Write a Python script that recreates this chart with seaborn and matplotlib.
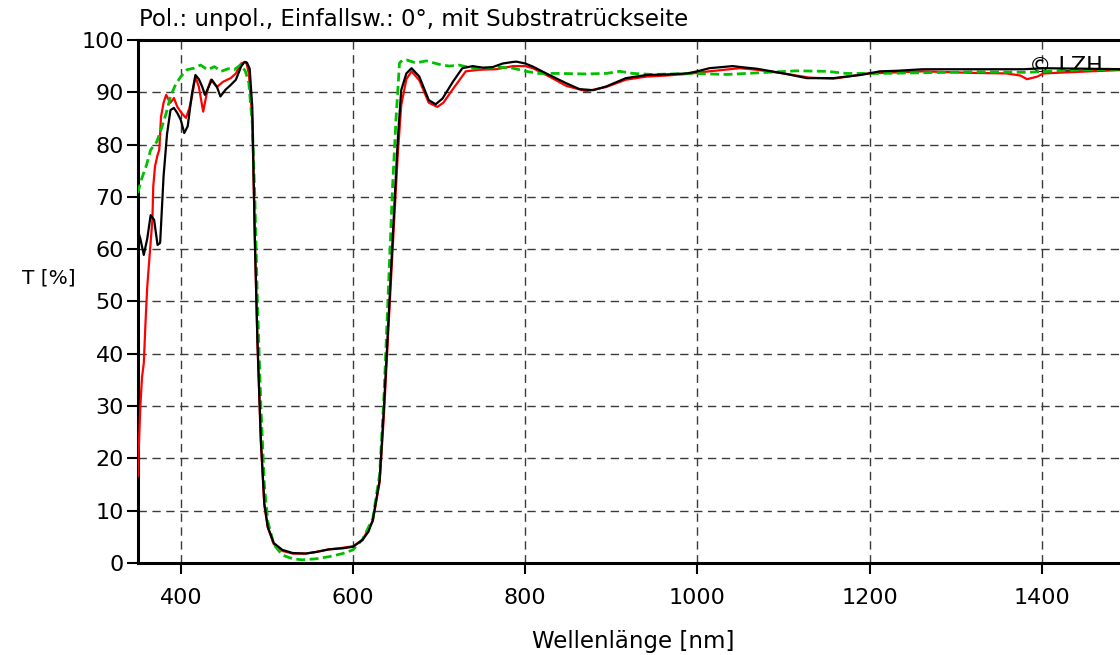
import matplotlib
matplotlib.use("Agg")
import matplotlib.pyplot as plt
import seaborn as sns
import pandas as pd

# Transmission spectra (wavelength in nm, transmission in %)
wl_black = [350, 353, 357, 361, 365, 369, 373, 376, 380, 384, 388, 392, 396, 400, 404, 408,
            413, 417, 421, 425, 428, 431, 436, 442, 446, 452, 458, 464, 470, 474, 477, 480,
            483, 486, 489, 493, 497, 501, 508, 518, 530, 545, 557, 572, 588, 600, 611, 618,
            623, 631, 636, 642, 648, 652, 656, 662, 668, 677, 688, 696, 704, 716, 727, 739,
            751, 762, 774, 786, 790, 800, 809, 828, 848, 863, 879, 894, 917, 941, 964, 988,
            1000, 1014, 1041, 1057, 1069, 1100, 1127, 1158, 1189, 1212, 1231, 1262, 1301,
            1379, 1402, 1450, 1500]
t_black = [63.7, 62.0, 58.9, 62.0, 66.5, 65.6, 60.8, 61.2, 74.0, 82.0, 86.6, 87.0, 86.0, 84.7,
           82.2, 83.5, 89.8, 93.3, 92.5, 91.0, 89.5, 90.5, 92.4, 91.0, 89.2, 90.5, 91.4, 92.4,
           94.9, 95.8, 95.6, 94.5, 87.2, 61.8, 42.6, 23.5, 11.4, 6.9, 3.8, 2.5, 1.9, 1.8, 2.1,
           2.6, 2.8, 3.1, 4.4, 6.0, 8.2, 15.9, 29.9, 49.0, 68.1, 80.9, 90.4, 93.6, 94.6, 93.0,
           88.5, 87.7, 88.8, 92.0, 94.6, 95.0, 94.7, 94.8, 95.5, 95.8, 95.85, 95.5, 94.9, 93.3,
           91.7, 90.6, 90.4, 91.1, 92.7, 93.3, 93.4, 93.6, 94.0, 94.6, 95.0, 94.7, 94.5, 93.6,
           92.7, 92.7, 93.3, 94.0, 94.1, 94.4, 94.4, 94.4, 94.6, 94.5, 94.4]

wl_red = [350, 353, 355, 357, 359, 361, 364, 367, 368, 370, 373, 375, 377, 380, 383, 386, 388,
          392, 396, 401, 406, 410, 413, 417, 421, 426, 431, 435, 442, 449, 458, 464, 470, 476,
          479, 483, 486, 489, 493, 497, 501, 508, 518, 530, 545, 557, 572, 588, 600, 611, 623,
          631, 636, 642, 648, 652, 656, 662, 668, 677, 688, 698, 705, 716, 731, 747, 766, 786,
          800, 809, 828, 848, 871, 894, 917, 941, 964, 988, 1014, 1049, 1069, 1100, 1130, 1158,
          1200, 1262, 1320, 1359, 1375, 1383, 1395, 1402, 1456, 1500]
t_red = [16.5, 30.0, 35.6, 38.2, 46.0, 52.8, 59.3, 65.6, 72.0, 75.8, 78.0, 79.0, 85.3, 88.0,
         89.5, 88.5, 88.0, 88.9, 87.2, 86.0, 85.1, 87.0, 89.2, 93.0, 91.0, 86.3, 90.5, 92.4,
         91.0, 92.0, 92.7, 93.6, 95.5, 95.8, 93.6, 85.0, 62.0, 42.0, 23.0, 11.0, 6.8, 3.6, 2.3,
         1.8, 1.8, 2.1, 2.6, 2.9, 3.2, 4.4, 8.0, 15.5, 28.5, 47.5, 66.0, 78.0, 87.5, 92.5, 94.0,
         92.3, 88.0, 87.2, 88.0, 90.6, 94.0, 94.3, 94.4, 95.0, 95.0, 94.6, 93.0, 91.2, 90.2,
         91.0, 92.4, 93.0, 93.2, 93.5, 94.0, 94.6, 94.3, 93.6, 92.8, 92.6, 93.6, 94.0, 93.7,
         93.6, 93.2, 92.5, 93.0, 93.6, 94.0, 94.3]

wl_green = [350, 354, 360, 365, 372, 377, 383, 388, 394, 400, 407, 415, 423, 431, 439, 447, 455,
            462, 470, 475, 479, 483, 486, 489, 493, 497, 501, 508, 518, 530, 541, 557, 572, 588,
            600, 611, 623, 631, 636, 641, 646, 650, 654, 658, 662, 673, 685, 701, 712, 723, 739,
            755, 770, 786, 801, 816, 839, 870, 894, 910, 925, 948, 994, 1034, 1057, 1115, 1150,
            1173, 1212, 1251, 1328, 1383, 1444, 1500]
t_green = [70.7, 73.2, 76.0, 79.0, 80.5, 82.8, 86.0, 89.2, 91.5, 93.0, 94.3, 94.6, 95.2, 94.3,
           94.9, 94.0, 94.5, 94.3, 95.3, 94.0, 91.8, 84.0, 70.0, 50.0, 30.0, 15.0, 8.0, 3.5, 1.5,
           0.8, 0.6, 0.8, 1.2, 1.8, 2.5, 4.5, 8.5, 17.0, 32.0, 52.0, 72.0, 85.0, 95.6, 96.2, 96.2,
           95.6, 96.0, 95.3, 95.0, 95.2, 94.6, 94.6, 94.8, 94.6, 94.0, 93.6, 93.6, 93.5, 93.6,
           94.0, 93.6, 93.4, 93.6, 93.4, 93.6, 94.1, 94.0, 93.6, 93.6, 93.7, 93.9, 93.8, 94.3,
           94.4]

x_ticks = [400, 600, 800, 1000, 1200, 1400]
y_ticks = list(range(0, 101, 10))

sns.set_style("white")
plt.rcParams["font.family"] = ["DejaVu Sans"]
plt.rcParams["text.color"] = "black"
plt.rcParams["axes.labelcolor"] = "black"

fig = plt.figure(figsize=(11.2, 6.55), dpi=100)
ax = fig.add_axes([0.123, 0.1405, 0.884, 0.7985])

df_black = pd.DataFrame({"wl": wl_black, "T": t_black})
df_red = pd.DataFrame({"wl": wl_red, "T": t_red})
df_green = pd.DataFrame({"wl": wl_green, "T": t_green})

ax.text(1385, 95.0, "© LZH", fontsize=16, va="center", ha="left", color="black", zorder=1)

sns.lineplot(data=df_red, x="wl", y="T", color="#ff0000", linewidth=1.6, sort=False, ax=ax, zorder=3)
sns.lineplot(data=df_green, x="wl", y="T", color="#00c000", linewidth=2.0, sort=False, ax=ax, zorder=4)
ax.lines[-1].set_dashes((3.2, 1.6))
sns.lineplot(data=df_black, x="wl", y="T", color="black", linewidth=1.6, sort=False, ax=ax, zorder=5)

ax.set_xlim(350, 1500)
ax.set_ylim(0, 100)
ax.set_xticks(x_ticks)
ax.set_yticks(y_ticks)
ax.tick_params(axis="both", which="major", direction="out", length=8, width=1.5,
               labelsize=16, color="black", labelcolor="black", bottom=True, left=True)
ax.tick_params(axis="x", pad=10)
ax.tick_params(axis="y", pad=2)

ax.grid(True, linestyle=(0, (6, 4)), color="#3a3a3a", linewidth=1.0)
ax.set_axisbelow(True)

for side in ["left", "bottom", "top", "right"]:
    ax.spines[side].set_color("black")
    ax.spines[side].set_linewidth(2.2)
    ax.spines[side].set_visible(True)

ax.set_xlabel("Wellenlänge [nm]", fontsize=16.5, labelpad=16, color="black")
ax.set_ylabel("T [%]", fontsize=14.5, rotation=0, ha="left", va="center", color="black")
ax.yaxis.set_label_coords(-0.117, 0.545)
ax.set_title("Pol.: unpol., Einfallsw.: 0°, mit Substratrückseite", fontsize=16.5,
             loc="left", pad=10, x=0.001, color="black")

fig.savefig("out.png", dpi=100)
